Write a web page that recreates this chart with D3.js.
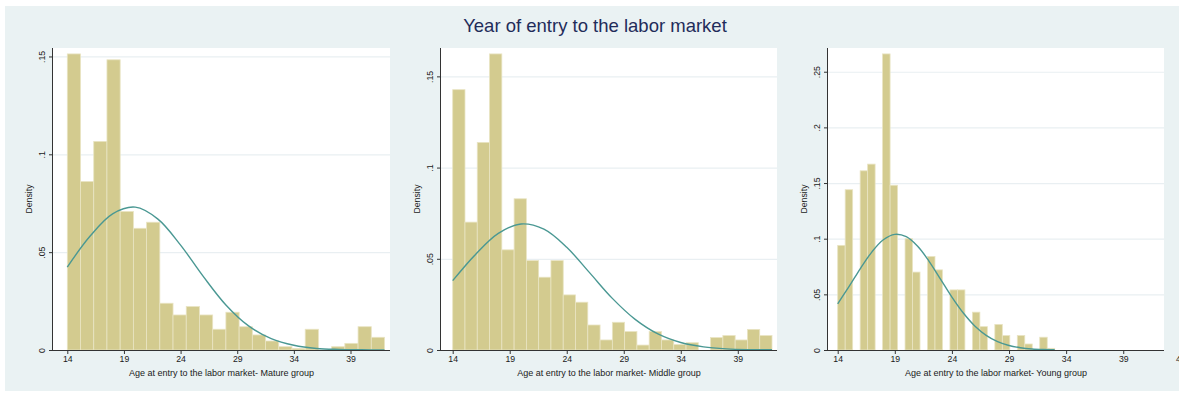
<!DOCTYPE html>
<html>
<head>
<meta charset="utf-8">
<script src="https://cdn.jsdelivr.net/npm/d3@7"></script>
<style>
  body { margin: 0; background: #ffffff; }
  svg text { font-family: "Liberation Sans", Arial, sans-serif; }
</style>
</head>
<body>
<div id="chart"></div>
<script>

// chart title
const chartTitle = "Year of entry to the labor market"

// x tick labels (age)
const xTicks = [14, 19, 24, 29, 34, 39]
const xTicksYoung = [14, 19, 24, 29, 34, 39, 44]

// y tick values + labels
const yTicksMature = [0, 0.05, 0.1, 0.15]
const yTicksMiddle = [0, 0.05, 0.1, 0.15]
const yTicksYoung = [0, 0.05, 0.1, 0.15, 0.2, 0.25]
const yLabelsMature = ["0", ".05", ".1", ".15"]
const yLabelsMiddle = ["0", ".05", ".1", ".15"]
const yLabelsYoung = ["0", ".05", ".1", ".15", ".2", ".25"]

// histogram bins: range of ages covered, density of each equal-width bin
const matureRange = [14, 42]
const matureDensity = [0.1513, 0.0861, 0.1066, 0.1483, 0.0708, 0.0622, 0.0653, 0.0239,
    0.0179, 0.0222, 0.0179, 0.0106, 0.0193, 0.0119, 0.0077, 0.0046,
    0.0017, 0.0008, 0.0106, 0, 0.0017, 0.0034, 0.0119, 0.0065]

const middleRange = [14, 42]
const middleDensity = [0.1427, 0.0701, 0.1138, 0.1623, 0.0549, 0.0829, 0.0490, 0.0399,
    0.0490, 0.0302, 0.0262, 0.0137, 0.0055, 0.0152, 0.0101, 0.0027,
    0.0101, 0.0055, 0.0030, 0.0040, 0, 0.0068, 0.0079, 0.0055, 0.0113, 0.0079]

const youngRange = [14, 33]
const youngDensity = [0.094, 0.144, 0, 0.161, 0.167, 0, 0.266, 0.148, 0,
    0.100, 0.070, 0, 0.084, 0.072, 0, 0.054, 0.054, 0, 0.034, 0.021, 0,
    0.023, 0.013, 0, 0.013, 0.0054, 0, 0.0115, 0.0015]

// normal density overlay
const matureCurveAge = [14, 16, 18, 20, 22, 24, 26, 28, 30, 32, 34, 36, 38, 40, 42]
const matureCurveDens = [0.0424, 0.0581, 0.0696, 0.0730, 0.0669, 0.0536, 0.0376, 0.0230,
    0.0123, 0.0058, 0.0024, 0.0008, 0.0003, 0.0001, 0]

const middleCurveAge = [14, 16, 18, 20, 22, 24, 26, 28, 30, 32, 34, 36, 38, 40, 42]
const middleCurveDens = [0.0380, 0.0524, 0.0639, 0.0691, 0.0662, 0.0563, 0.0424, 0.0283,
    0.0168, 0.0088, 0.0041, 0.0017, 0.0006, 0.0002, 0.0001]

const youngCurveAge = [14, 15, 16, 17, 18, 19, 20, 21, 22, 23, 24, 25, 26, 27, 28, 29, 30, 31, 32, 33]
const youngCurveDens = [0.0415, 0.0571, 0.0734, 0.0882, 0.0990, 0.1039, 0.1018, 0.0932, 0.0797,
    0.0637, 0.0475, 0.0332, 0.0216, 0.0132, 0.0075, 0.0040, 0.0020, 0.0009, 0.0004, 0.0002]

const groupNames = ["Mature group", "Middle group", "Young group"]


class HistPanel {

    constructor(svg, data){
        this.svg = svg
        this.range = data.range
        this.density = data.density
        this.curveAge = data.curveAge
        this.curveDens = data.curveDens
        this.xTicks = data.xTicks
        this.yTicks = data.yTicks
        this.yLabels = data.yLabels
        this.x_label = data.x_label
        this.y_label = "Density"

        //plot frame in page pixels
        this.frame = data.frame
        this.top = 48
        this.bottom = 350
    }

    getXYScale(){
        var f = this.frame
        this.x = d3.scaleLinear()
            .domain([14, 42])
            .range([f.x14, f.x42])

        this.y = d3.scaleLinear()
            .domain([0, d3.max(this.density) * 1.02])
            .range([this.bottom, this.top])
    }

    renderGrid(){
        var f = this.frame
        var y = this.y
        var g = this.svg.append("g")

        //white plot region
        g.append("rect")
            .attr("x", f.left)
            .attr("y", this.top)
            .attr("width", f.right - f.left)
            .attr("height", this.bottom - this.top)
            .attr("fill", "#ffffff")

        // horizontal gridlines
        g.append("g")
            .attr("transform", "translate(" + f.left + ",0)")
            .call(d3.axisRight(y)
                .tickValues(this.yTicks.slice(1))
                .tickSize(f.right - f.left)
                .tickFormat(""))
            .call(a => a.select(".domain").remove())
            .call(a => a.selectAll("line").attr("stroke", "#e9eff2").attr("stroke-width", 1.2))
    }

    drawBars(){
        var x = this.x
        var y = this.y
        var n = this.density.length
        var lo = this.range[0]
        var w = (this.range[1] - this.range[0]) / n

        var bins = this.density.map((d, i) => ({ x0: lo + i * w, x1: lo + (i + 1) * w, value: d }))

        this.svg.append("g")
            .selectAll("rect")
            .data(bins.filter(b => b.value > 0))
            .enter()
            .append("rect")
                .attr("x", d => x(d.x0))
                .attr("width", d => x(d.x1) - x(d.x0))
                .attr("y", d => y(d.value))
                .attr("height", d => y(0) - y(d.value))
                .attr("fill", "#d3cb8f")
                .attr("stroke", "#e9e4c3")
                .attr("stroke-width", 0.8)
    }

    drawCurve(){
        var x = this.x
        var y = this.y
        var pts = this.curveAge.map((a, i) => [a, this.curveDens[i]])

        this.svg.append("path")
            .datum(pts)
            .attr("fill", "none")
            .attr("stroke", "#4a9893")
            .attr("stroke-width", 1.4)
            .attr("d", d3.line()
                .x(d => x(d[0]))
                .y(d => y(d[1]))
                .curve(d3.curveCatmullRom))
    }

    drawAxes(){
        var f = this.frame
        var x = this.x
        var y = this.y
        var self = this

        //x axis
        var xa = this.svg.append("g")
            .attr("transform", "translate(0," + this.bottom + ")")
            .call(d3.axisBottom(x)
                .tickValues(this.xTicks)
                .tickSize(4)
                .tickSizeOuter(0))
        xa.select(".domain").attr("d", "M" + f.left + ",0.5H" + f.right)
        xa.selectAll("path, line").attr("stroke", "#333").attr("stroke-width", 1)
        xa.selectAll("text")
            .attr("y", 6)
            .attr("font-size", "8.7px")
            .attr("fill", "#1a1a1a")
            .attr("font-family", null)

        //y axis
        var ya = this.svg.append("g")
            .attr("transform", "translate(" + f.left + ",0)")
            .call(d3.axisLeft(y)
                .tickValues(this.yTicks)
                .tickSize(4)
                .tickSizeOuter(0)
                .tickFormat((d, i) => self.yLabels[i]))
        ya.select(".domain").attr("d", "M-0.5," + this.top + "V" + this.bottom)
        ya.selectAll("path, line").attr("stroke", "#333").attr("stroke-width", 1)
        ya.selectAll(".tick text")
            .attr("x", null)
            .attr("text-anchor", "middle")
            .attr("transform", "translate(-11.5,0) rotate(-90)")
            .attr("dy", "0.35em")
            .attr("font-size", "8.7px")
            .attr("fill", "#1a1a1a")
            .attr("font-family", null)

        //vertical axis label
        this.svg.append("text")
            .attr("transform", "translate(" + (f.left - 24) + "," + ((this.top + this.bottom) / 2) + ") rotate(-90)")
            .attr("text-anchor", "middle")
            .attr("dy", "0.35em")
            .attr("font-size", "8.7px")
            .attr("fill", "#1a1a1a")
            .text(this.y_label)

        //horizontal axis label
        this.svg.append("text")
            .attr("x", (f.left + f.right) / 2)
            .attr("y", 376)
            .attr("text-anchor", "middle")
            .attr("font-size", "9px")
            .attr("fill", "#1a1a1a")
            .text(this.x_label)
    }

    render(){
        this.getXYScale()
        this.renderGrid()
        this.drawBars()
        this.drawCurve()
        this.drawAxes()
    }
}


var svg = d3.select("#chart")
    .append("svg")
        .attr("width", 1179)
        .attr("height", 396)

//graph region background
svg.append("rect")
    .attr("x", 5)
    .attr("y", 6)
    .attr("width", 1174)
    .attr("height", 385)
    .attr("fill", "#eaf2f3")

svg.append("text")
    .attr("x", 595)
    .attr("y", 31.5)
    .attr("text-anchor", "middle")
    .attr("font-size", "18.5px")
    .attr("fill", "#1f2c5a")
    .text(chartTitle)

var panels = [
    { range: matureRange, density: matureDensity, curveAge: matureCurveAge, curveDens: matureCurveDens,
      xTicks: xTicks, yTicks: yTicksMature, yLabels: yLabelsMature,
      x_label: "Age at entry to the labor market- " + groupNames[0],
      frame: { left: 53, right: 390, x14: 67.3, x42: 384.5 } },
    { range: middleRange, density: middleDensity, curveAge: middleCurveAge, curveDens: middleCurveDens,
      xTicks: xTicks, yTicks: yTicksMiddle, yLabels: yLabelsMiddle,
      x_label: "Age at entry to the labor market- " + groupNames[1],
      frame: { left: 441, right: 777, x14: 452.7, x42: 772 } },
    { range: youngRange, density: youngDensity, curveAge: youngCurveAge, curveDens: youngCurveDens,
      xTicks: xTicksYoung, yTicks: yTicksYoung, yLabels: yLabelsYoung,
      x_label: "Age at entry to the labor market- " + groupNames[2],
      frame: { left: 828, right: 1164, x14: 837.7, x42: 1157.5 } }
]

panels.forEach(p => {
    var chart = new HistPanel(svg, p)
    chart.render()
})

</script>
</body>
</html>
